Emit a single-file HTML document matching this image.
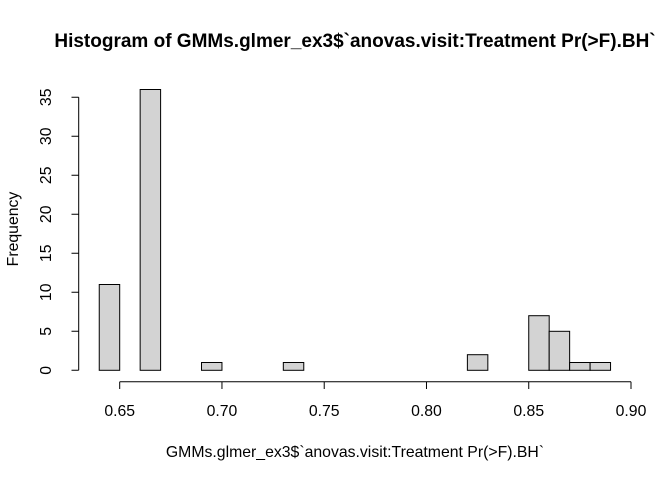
<!DOCTYPE html>
<html><head><meta charset="utf-8"><style>body{margin:0;background:#fff}svg{display:block;font-family:"Liberation Sans",sans-serif}</style></head>
<body>
<svg id="c" width="672" height="480">
<text x="355" y="47" text-anchor="middle" font-weight="bold" font-size="19">Histogram of GMMs.glmer_ex3$`anovas.visit:Treatment Pr(&gt;F).BH`</text>
<text x="355" y="457" text-anchor="middle" font-size="15.8">GMMs.glmer_ex3$`anovas.visit:Treatment Pr(&gt;F).BH`</text>
<text transform="translate(18,229) rotate(-90)" text-anchor="middle" font-size="15.8">Frequency</text>
</svg>
<script>
const binStarts=[0.64,0.65,0.66,0.67,0.68,0.69,0.70,0.71,0.72,0.73,0.74,0.75,0.76,0.77,0.78,0.79,0.80,0.81,0.82,0.83,0.84,0.85,0.86,0.87,0.88];
const counts=[11,0,36,0,0,1,0,0,0,1,0,0,0,0,0,0,0,0,2,0,0,7,5,1,1];
const xTicks=[0.65,0.70,0.75,0.80,0.85,0.90];
const yTicks=[0,5,10,15,20,25,30,35];
const binW=0.01;
const X=v=>119.7+(v-0.65)*(631-119.7)/0.25;
const Y=v=>370.3-v*(370.3-97.3)/35;
const svg=document.getElementById('c');const NS='http://www.w3.org/2000/svg';
function mk(t,a){const e=document.createElementNS(NS,t);for(const k in a)e.setAttribute(k,a[k]);svg.appendChild(e);return e;}
binStarts.forEach((s,i)=>{
 const x0=X(s),x1=X(s+binW),y=Y(counts[i]);
 const r=mk('rect',{x:x0,y:y,width:x1-x0,height:Y(0)-y,fill:'#d3d3d3',stroke:'#000','stroke-width':1});
 
 
});
const xa=mk('path',{d:`M${X(0.65)},381.7H${X(0.90)}`+xTicks.map(t=>`M${X(t)},381.7V389`).join(''),stroke:'#000',fill:'none'});


xTicks.forEach(t=>{const e=mk('text',{x:X(t),y:416,'text-anchor':'middle','font-size':15.8});e.textContent=t.toFixed(2);

});
const ya=mk('path',{d:`M78.7,${Y(0)}V${Y(35)}`+yTicks.map(t=>`M78.7,${Y(t)}H71.5`).join(''),stroke:'#000',fill:'none'});


yTicks.forEach(t=>{const e=mk('text',{transform:`translate(51,${Y(t)}) rotate(-90)`,'text-anchor':'middle','font-size':15.8});e.textContent=t;

});
</script>
</body></html>
